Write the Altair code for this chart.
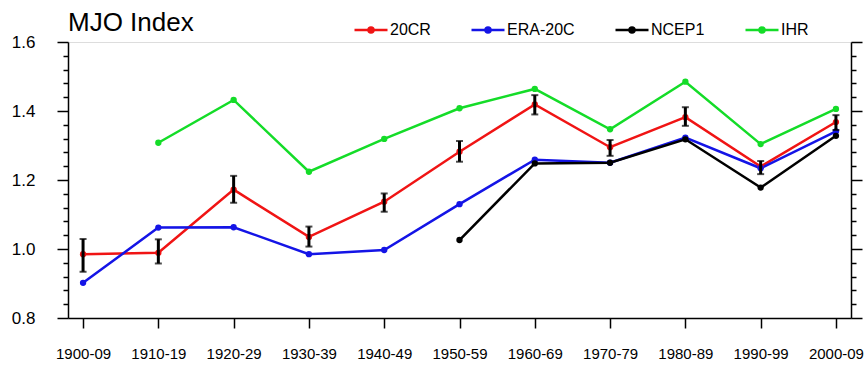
import altair as alt
import pandas as pd

periods = ["1900-09", "1910-19", "1920-29", "1930-39", "1940-49", "1950-59",
           "1960-69", "1970-79", "1980-89", "1990-99", "2000-09"]
series_names = ["20CR", "ERA-20C", "NCEP1", "IHR"]
series_colors = ["#f01414", "#1414e6", "#000000", "#14dc28"]

r20cr = [0.985, 0.989, 1.172, 1.035, 1.137, 1.282, 1.419, 1.295, 1.382, 1.239, 1.368]
r20cr_lo = [0.934, 0.958, 1.134, 1.007, 1.108, 1.253, 1.390, 1.270, 1.357, 1.217, 1.345]
r20cr_hi = [1.029, 1.028, 1.212, 1.065, 1.161, 1.313, 1.446, 1.316, 1.411, 1.255, 1.388]
era20c = [0.902, 1.062, 1.063, 0.985, 0.997, 1.130, 1.259, 1.250, 1.323, 1.234, 1.341]
ncep1 = [None, None, None, None, None, 1.026, 1.248, 1.250, 1.318, 1.178, 1.328]
ihr = [None, 1.308, 1.432, 1.224, 1.319, 1.408, 1.464, 1.347, 1.485, 1.304, 1.406]

y_ticks = [0.8, 0.84, 0.88, 0.92, 0.96, 1.0, 1.04, 1.08, 1.12, 1.16, 1.2,
           1.24, 1.28, 1.32, 1.36, 1.4, 1.44, 1.48, 1.52, 1.56, 1.6]

rows = []
for name, vals in zip(series_names, [r20cr, era20c, ncep1, ihr]):
    for p, v in zip(periods, vals):
        if v is not None:
            rows.append({"period": p, "series": name, "value": v})
df = pd.DataFrame(rows)
err = pd.DataFrame({"period": periods, "lo": r20cr_lo, "hi": r20cr_hi})

FONT = "Liberation Sans"
major_test = "abs(datum.value * 5 - round(datum.value * 5)) < 0.001"

x_enc = alt.X("period:N", sort=periods, title=None,
              scale=alt.Scale(type="point", padding=0.2),
              axis=alt.Axis(labelAngle=0, labelFontSize=15, labelFont=FONT,
                            labelColor="black", tickSize=10, tickWidth=1.5,
                            tickColor="black", domainColor="black",
                            domainWidth=1.5, labelPadding=18))
y_scale = alt.Scale(domain=[0.8, 1.6], zero=False, nice=False)

left_axis = alt.Axis(values=y_ticks, format=".1f",
                     labelExpr=f"({major_test}) ? format(datum.value, '.1f') : ''",
                     tickSize={"condition": {"test": major_test, "value": 11}, "value": 5},
                     tickWidth=1.5, tickColor="black", domainColor="black",
                     domainWidth=1.5, labelFontSize=17, labelFont=FONT,
                     labelColor="black", labelPadding=22, grid=False)
right_axis = alt.Axis(values=y_ticks, orient="right", labels=False,
                      tickSize={"condition": {"test": major_test, "value": 11}, "value": 5},
                      tickWidth=1.5, tickColor="black", domainColor="black",
                      domainWidth=1.5, grid=False)

sym_path = ("M-1,0H1"
            "M0.0758,0A0.0758,0.0758,0,1,1,-0.0758,0A0.0758,0.0758,0,1,1,0.0758,0"
            "M0.1515,0A0.1515,0.1515,0,1,1,-0.1515,0A0.1515,0.1515,0,1,1,0.1515,0")

color_enc = alt.Color("series:N",
                      scale=alt.Scale(domain=series_names, range=series_colors),
                      legend=alt.Legend(title=None, orient="none", legendX=285,
                                        legendY=-30, direction="horizontal",
                                        symbolType=sym_path, symbolSize=1089,
                                        symbolStrokeWidth=2.5, labelFontSize=16,
                                        labelFont=FONT, labelColor="black",
                                        labelOffset=1, columnPadding=35,
                                        padding=0))

lines = alt.Chart(df).mark_line(strokeWidth=2.5).encode(
    x=x_enc,
    y=alt.Y("value:Q", scale=y_scale, title=None, axis=left_axis),
    color=color_enc,
)
points = alt.Chart(df).mark_point(filled=True, size=40, opacity=1).encode(
    x=x_enc,
    y=alt.Y("value:Q", scale=y_scale, title=None, axis=None),
    color=color_enc,
)
bars = alt.Chart(err).mark_rule(strokeWidth=3, color="black").encode(
    x=x_enc,
    y=alt.Y("lo:Q", scale=y_scale, title=None, axis=right_axis),
    y2="hi:Q",
)
caps_lo = alt.Chart(err).mark_tick(orient="horizontal", size=7, thickness=2,
                                   color="black").encode(
    x=x_enc, y=alt.Y("lo:Q", scale=y_scale, axis=None))
caps_hi = alt.Chart(err).mark_tick(orient="horizontal", size=7, thickness=2,
                                   color="black").encode(
    x=x_enc, y=alt.Y("hi:Q", scale=y_scale, axis=None))

chart = alt.layer(lines, points, bars, caps_lo, caps_hi).resolve_axis(
    y="independent"
).properties(
    width=783, height=276,
    autosize=alt.AutoSizeParams(type="none"),
    padding={"left": 68, "top": 42, "right": 15, "bottom": 47},
    title=alt.TitleParams("MJO Index", anchor="start", frame="group",
                          fontSize=26, font=FONT,
                          fontWeight="normal", color="black", offset=12,
                          dy=36),
).configure_view(stroke="black", strokeWidth=1.5).configure(background="white")

chart.save("out.html", embed_options={"renderer": "svg", "actions": False})
